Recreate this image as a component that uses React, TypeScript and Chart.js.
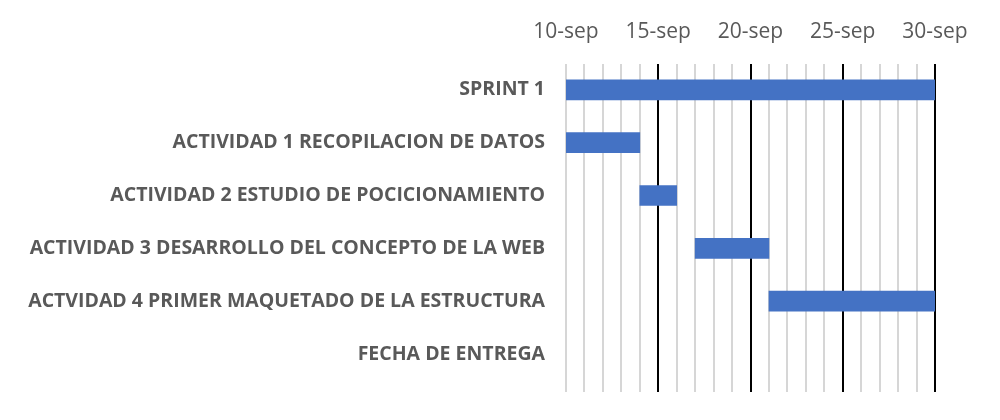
import React, { useEffect, useRef } from "react";
import { Chart, registerables } from "chart.js";

Chart.register(...registerables);

const categories = [
  "SPRINT 1",
  "ACTIVIDAD 1 RECOPILACION DE DATOS",
  "ACTIVIDAD 2 ESTUDIO DE POCICIONAMIENTO",
  "ACTIVIDAD 3 DESARROLLO DEL CONCEPTO DE LA WEB",
  "ACTVIDAD 4 PRIMER MAQUETADO DE LA ESTRUCTURA",
  "FECHA DE ENTREGA",
];
// day of September
const startDays: (number | null)[] = [10, 10, 14, 17, 21, null];
const endDays: (number | null)[] = [30, 14, 16, 21, 30, null];

const tickDays = [10, 15, 20, 25, 30];
const tickLabels = ["10-sep", "15-sep", "20-sep", "25-sep", "30-sep"];

const TEXT = "#595959";

export default function App() {
  const ref = useRef<HTMLCanvasElement | null>(null);
  useEffect(() => {
    if (!ref.current) return;
    const data = categories
      .map((_, i) =>
        startDays[i] != null && endDays[i] != null
          ? { y: i, x: [startDays[i] as number, endDays[i] as number] }
          : null
      )
      .filter((d) => d !== null);
    const chart = new Chart(ref.current, {
      type: "bar",
      data: {
        datasets: [
          {
            data: data as any,
            backgroundColor: "#4472C4",
            borderWidth: 0,
            barThickness: 20,
          },
        ],
      },
      options: {
        indexAxis: "y",
        animation: false,
        responsive: true,
        maintainAspectRatio: false,
        layout: { padding: { left: 0, top: 0, right: 65, bottom: 28 } },
        plugins: { legend: { display: false }, tooltip: { enabled: false } },
        scales: {
          x: {
            type: "linear",
            position: "top",
            min: 10,
            max: 30,
            afterFit: (s: any) => {
              s.height = 64;
              s.paddingLeft = 0;
              s.paddingRight = 0;
            },
            border: { display: false },
            grid: {
              drawTicks: false,
              lineWidth: 2,
              color: (ctx: any) => {
                const v = ctx.tick ? ctx.tick.value : 0;
                return v % 5 === 0 && v !== 10 ? "#000000" : "#d6d6d6";
              },
            },
            ticks: {
              stepSize: 1,
              autoSkip: false,
              maxRotation: 0,
              padding: 19,
              color: TEXT,
              font: { family: "'Open Sans'", size: 21 },
              callback: (v: any) => {
                const idx = tickDays.indexOf(Number(v));
                return idx >= 0 ? tickLabels[idx] : "";
              },
            },
          },
          y: {
            type: "linear",
            min: -0.49,
            max: 5.72,
            reverse: true,
            offset: false,
            grace: 0,
            bounds: "data",
            afterFit: (s: any) => {
              s.width = 566;
              s.paddingTop = 0;
              s.paddingBottom = 0;
            },
            afterBuildTicks: (s: any) => {
              s.ticks = categories.map((_, i) => ({ value: i }));
            },
            border: { display: false },
            grid: { display: false, drawTicks: false, offset: false },
            ticks: {
              padding: 21,
              autoSkip: false,
              color: TEXT,
              font: { family: "'Open Sans'", size: 19.5, weight: "bold" },
              callback: (v: any) => categories[Number(v)] ?? "",
            },
          },
        },
      },
    });
    return () => chart.destroy();
  }, []);
  return (
    <div style={{ position: "fixed", left: 0, top: 0, width: 1000, height: 420, background: "#fff" }}>
      <canvas ref={ref} />
    </div>
  );
}
